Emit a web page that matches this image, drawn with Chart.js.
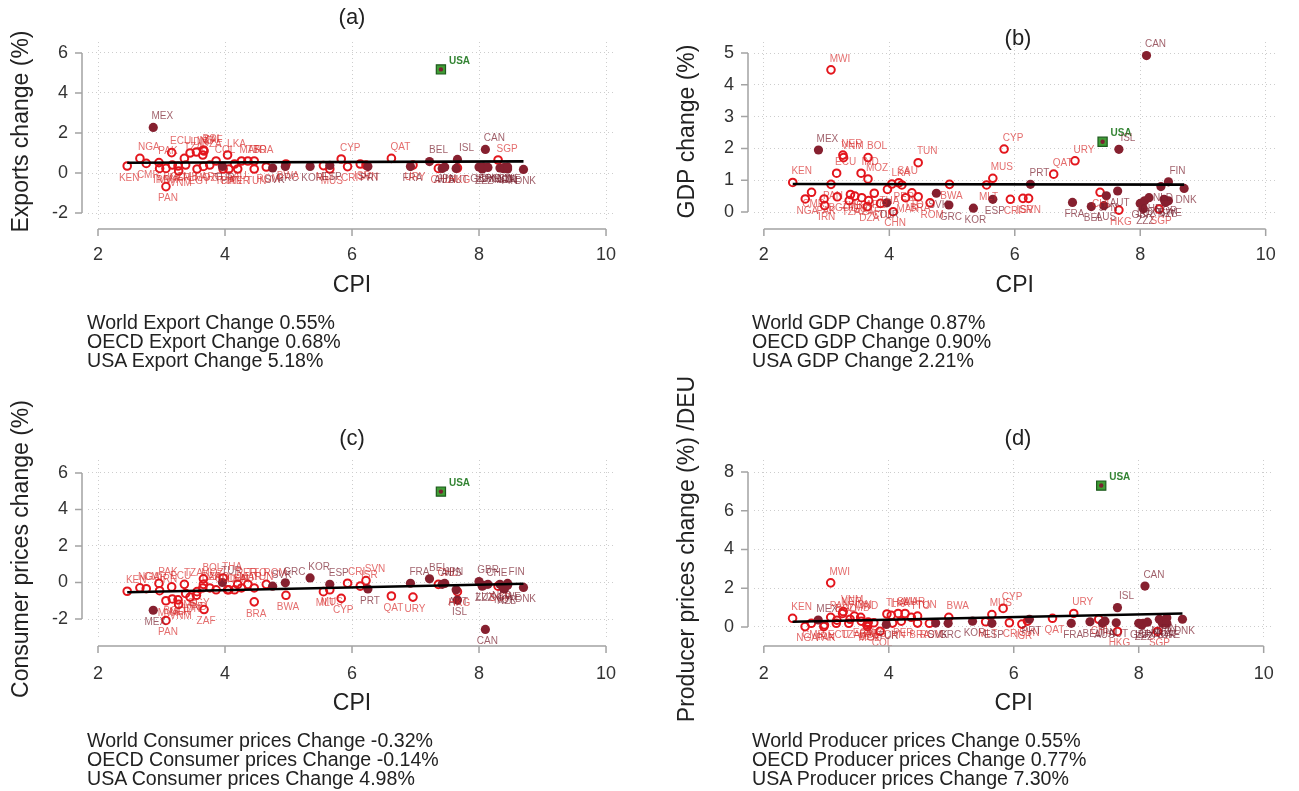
<!DOCTYPE html>
<html>
<head>
<meta charset="utf-8">
<script src="https://cdn.jsdelivr.net/npm/chart.js@4.4.1/dist/chart.umd.min.js"></script>
<style>
html,body{margin:0;padding:0;background:#fff;}
body{width:1299px;height:791px;position:relative;overflow:hidden;font-family:"Liberation Sans",Arial,sans-serif;}
canvas{position:absolute;left:0;top:0;}
.ptitle{position:absolute;font-size:22px;color:#222;transform:translate(-50%,-50%);white-space:nowrap;}
.stats{position:absolute;font-size:19.6px;line-height:19px;color:#222;white-space:nowrap;}
</style>
</head>
<body>
<canvas id="ca" width="1299" height="791"></canvas>
<canvas id="cb" width="1299" height="791"></canvas>
<canvas id="cc" width="1299" height="791"></canvas>
<canvas id="cd" width="1299" height="791"></canvas>
<div class="ptitle" style="left:352px;top:17px">(a)</div>
<div class="ptitle" style="left:1018px;top:38px">(b)</div>
<div class="ptitle" style="left:352px;top:438px">(c)</div>
<div class="ptitle" style="left:1018px;top:438px">(d)</div>
<div class="stats" id="sa" style="left:87px;top:313px"></div>
<div class="stats" id="sb" style="left:752px;top:313px"></div>
<div class="stats" id="sc" style="left:87px;top:731px"></div>
<div class="stats" id="sd" style="left:752px;top:731px"></div>
<script>
// ---------------- data ----------------
const countries = ['KEN','NGA','CMR','MEX','PAK','IRN','MWI','PAN','ECU','BGD','NER','VNM','TZA','ZMB','IDN','IND','EGY','BOL','MOZ','ZAF','DZA','ARG','COL','TUR','THA','LKA','CHN','SAU','PER','MAR','TTO','TUN','BRA','ROM','SVK','GRC','BWA','KOR','MLT','MUS','ESP','CYP','CRI','ISR','SVN','PRT','QAT','FRA','URY','BEL','CHL','USA','AUS','JPN','ISL','AUT','HKG','GBR','ZZZ','LUX','CAN','CHE','SGP','NLD','NOR','NZL','FIN','SWE','DNK'];
const cpi = [2.46,2.66,2.76,2.87,2.96,2.97,3.07,3.07,3.16,3.17,3.26,3.27,3.36,3.38,3.45,3.55,3.56,3.66,3.66,3.67,3.65,3.76,3.86,3.96,3.97,4.04,4.06,4.15,4.20,4.26,4.36,4.46,4.46,4.65,4.75,4.95,4.96,5.34,5.55,5.65,5.65,5.83,5.93,6.13,6.22,6.25,6.62,6.92,6.96,7.22,7.36,7.40,7.42,7.46,7.66,7.64,7.66,8.00,8.05,8.07,8.10,8.14,8.30,8.33,8.38,8.40,8.45,8.45,8.70];
// o = non-OECD (open), f = OECD (filled), u = USA
const group = ['o','o','o','f','o','o','o','o','o','o','o','o','o','o','o','o','o','o','o','o','o','o','o','f','o','o','o','o','o','o','o','o','o','o','f','f','o','f','o','o','f','o','o','o','o','f','o','f','o','f','o','u','f','f','f','f','o','f','f','f','f','f','o','f','f','f','f','f','f'];
const exportsChg = [0.35,0.73,0.48,2.28,0.52,0.23,0.23,-0.68,1.02,0.40,0.35,0.10,0.73,0.40,1.00,1.05,0.20,1.15,0.33,1.10,0.90,0.40,0.60,0.33,0.20,0.90,0.20,0.45,0.20,0.60,0.60,0.20,0.60,0.30,0.25,0.33,0.45,0.33,0.37,0.20,0.38,0.70,0.32,0.45,0.40,0.32,0.73,0.32,0.40,0.57,0.23,5.18,0.23,0.30,0.68,0.23,0.25,0.30,0.20,0.30,1.18,0.28,0.65,0.25,0.22,0.28,0.20,0.30,0.18];
const gdpChg = [0.93,0.41,0.62,1.95,0.41,0.20,4.47,0.87,1.22,0.48,1.79,1.71,0.36,0.55,0.50,1.22,0.45,1.71,1.04,0.36,0.17,0.59,0.27,0.29,0.71,0.88,0.01,0.92,0.85,0.45,0.60,1.55,0.48,0.29,0.59,0.22,0.87,0.12,0.85,1.06,0.40,1.98,0.40,0.43,0.43,0.87,1.19,0.30,1.61,0.17,0.62,2.21,0.20,0.51,1.97,0.66,0.06,0.27,0.10,0.35,4.92,0.45,0.09,0.80,0.40,0.30,0.95,0.35,0.74];
const consumerChg = [-0.48,-0.29,-0.34,-1.52,-0.05,-0.45,-1.00,-2.08,-0.24,-0.90,-0.95,-1.20,-0.10,-0.60,-0.80,-0.70,-0.50,0.20,-0.10,-1.48,-0.30,-0.30,-0.40,0.00,0.25,-0.40,-0.40,-0.40,-0.10,-0.30,-0.10,-0.30,-1.06,-0.10,-0.20,-0.02,-0.70,0.25,-0.50,-0.40,-0.10,-0.87,-0.04,-0.20,0.10,-0.35,-0.74,-0.04,-0.80,0.20,-0.10,4.98,-0.10,-0.05,-0.96,-0.40,-0.50,0.05,-0.20,-0.15,-2.57,-0.10,-0.20,-0.10,-0.30,-0.35,-0.05,-0.15,-0.27];
const producerChg = [0.45,0.02,0.19,0.36,0.02,0.10,2.28,0.50,0.19,0.35,0.70,0.80,0.19,0.40,0.56,0.50,0.30,0.19,0.02,0.25,0.10,0.22,-0.22,0.13,0.67,0.60,0.20,0.70,0.30,0.70,0.50,0.56,0.20,0.19,0.20,0.19,0.50,0.30,0.27,0.64,0.19,0.96,0.22,0.15,0.30,0.40,0.45,0.19,0.70,0.27,0.40,7.30,0.19,0.30,1.00,0.22,-0.23,0.19,0.10,0.19,2.11,0.25,-0.23,0.40,0.19,0.30,0.48,0.19,0.40];
// fitted lines (end points)
const fitCpi = [2.46, 8.70];
const fitExports = [0.51, 0.58];
const fitGdp = [0.88, 0.86];
const fitConsumer = [-0.53, -0.07];
const fitProducer = [0.27, 0.70];
// tick labels
const xTicks = [2, 4, 6, 8, 10];
const yTicksExports = [-2, 0, 2, 4, 6];
const yTicksGdp = [0, 1, 2, 3, 4, 5];
const yTicksConsumer = [-2, 0, 2, 4, 6];
const yTicksProducer = [0, 2, 4, 6, 8];
// summary texts
const statsExports = ['World Export Change 0.55%', 'OECD Export Change 0.68%', 'USA Export Change 5.18%'];
const statsGdp = ['World GDP Change 0.87%', 'OECD GDP Change 0.90%', 'USA GDP Change 2.21%'];
const statsConsumer = ['World Consumer prices Change -0.32%', 'OECD Consumer prices Change -0.14%', 'USA Consumer prices Change 4.98%'];
const statsProducer = ['World Producer prices Change 0.55%', 'OECD Producer prices Change 0.77%', 'USA Producer prices Change 7.30%'];

// ---------------- drawing ----------------
const FONT = '"Liberation Sans", Arial, Helvetica, sans-serif';
Chart.defaults.font.family = FONT;

const panels = [
  {id:'ca', stats:'sa', text:statsExports, vals:exportsChg, fit:fitExports, yTicks:yTicksExports, yTitle:'Exports change (%)',
   pad:{left:8, top:42, right:683, bottom:492}, yW:80, xH:78, xmin:1.8425, xmax:10.157, ymin:-2.4, ymax:6.55, xPad:23},
  {id:'cb', stats:'sb', text:statsGdp, vals:gdpChg, fit:fitGdp, yTicks:yTicksGdp, yTitle:'GDP change (%)',
   pad:{left:674, top:42, right:17, bottom:492}, yW:80, xH:78, xmin:1.8425, xmax:10.157, ymin:-0.283, ymax:5.346, xPad:23},
  {id:'cc', stats:'sc', text:statsConsumer, vals:consumerChg, fit:fitConsumer, yTicks:yTicksConsumer, yTitle:'Consumer prices change (%)',
   pad:{left:8, top:460, right:683, bottom:74}, yW:80, xH:79, xmin:1.8425, xmax:10.157, ymin:-3.04, ymax:6.71, xPad:25},
  {id:'cd', stats:'sd', text:statsProducer, vals:producerChg, fit:fitProducer, yTicks:yTicksProducer, yTitle:'Producer prices change (%) /DEU',
   pad:{left:674, top:460, right:17, bottom:74}, yW:80, xH:79, xmin:1.8425, xmax:10.157, ymin:-0.568, ymax:8.62, xPad:25}
];

function axesPlugin(p) {
  return {
    id: 'rAxes',
    afterDraw(chart) {
      const {ctx, chartArea: ca, scales: {x, y}} = chart;
      ctx.save();
      ctx.strokeStyle = '#a3a3a3';
      ctx.lineWidth = 1.5;
      ctx.beginPath();
      const ax = ca.left - 6;
      const yt = p.yTicks;
      ctx.moveTo(ax, y.getPixelForValue(yt[0]));
      ctx.lineTo(ax, y.getPixelForValue(yt[yt.length - 1]));
      yt.forEach(v => { const py = y.getPixelForValue(v); ctx.moveTo(ax, py); ctx.lineTo(ax - 7, py); });
      const ay = ca.bottom + 8;
      ctx.moveTo(x.getPixelForValue(xTicks[0]), ay);
      ctx.lineTo(x.getPixelForValue(xTicks[xTicks.length - 1]), ay);
      xTicks.forEach(v => { const px = x.getPixelForValue(v); ctx.moveTo(px, ay); ctx.lineTo(px, ay + 7); });
      ctx.stroke();
      ctx.restore();
    }
  };
}

function labelPlugin(p) {
  return {
    id: 'ptLabels',
    afterDatasetsDraw(chart) {
      const {ctx, scales: {x, y}} = chart;
      ctx.save();
      ctx.font = '10px ' + FONT;
      ctx.textBaseline = 'middle';
      countries.forEach((c, i) => {
        const px = x.getPixelForValue(cpi[i]);
        const py = y.getPixelForValue(p.vals[i]);
        if (group[i] === 'u') {
          ctx.font = 'bold 10px ' + FONT;
          ctx.fillStyle = 'rgba(40,125,40,0.95)';
          ctx.textAlign = 'left';
          ctx.fillText(c, px + 8, py - 8);
          ctx.font = '10px ' + FONT;
          return;
        }
        const t = (cpi[i] - fitCpi[0]) / (fitCpi[1] - fitCpi[0]);
        const fv = p.fit[0] + t * (p.fit[1] - p.fit[0]);
        ctx.fillStyle = group[i] === 'f' ? 'rgba(120,30,45,0.72)' : 'rgba(215,40,40,0.68)';
        ctx.textAlign = 'center';
        if (p.vals[i] >= fv) ctx.fillText(c, px + 9, py - 11);
        else ctx.fillText(c, px + 2, py + 12);
      });
      ctx.restore();
    }
  };
}

panels.forEach(p => {
  const idx = group.map((g, i) => i);
  const openPts = idx.filter(i => group[i] === 'o').map(i => ({x: cpi[i], y: p.vals[i]}));
  const oecdPts = idx.filter(i => group[i] === 'f').map(i => ({x: cpi[i], y: p.vals[i]}));
  const usaPts = idx.filter(i => group[i] === 'u').map(i => ({x: cpi[i], y: p.vals[i]}));
  const fitPts = fitCpi.map((v, k) => ({x: v, y: p.fit[k]}));

  new Chart(document.getElementById(p.id), {
    type: 'scatter',
    data: {
      datasets: [
        {label: 'USA dot', data: usaPts, pointStyle: 'circle', pointRadius: 2.2, backgroundColor: '#7a2030', borderWidth: 0, order: 0},
        {label: 'USA', data: usaPts, pointStyle: 'rect', pointRadius: 6.5, backgroundColor: '#3f9d35', borderColor: '#1e5a1e', borderWidth: 1.2, order: 1},
        {label: 'fit', data: fitPts, showLine: true, borderColor: '#000', borderWidth: 2.6, pointRadius: 0, order: 2},
        {label: 'OECD', data: oecdPts, pointStyle: 'circle', pointRadius: 4.6, backgroundColor: '#86202f', borderWidth: 0, order: 3},
        {label: 'Other', data: openPts, pointStyle: 'circle', pointRadius: 3.8, backgroundColor: 'rgba(0,0,0,0)', borderColor: '#e3161d', borderWidth: 2, order: 4}
      ]
    },
    options: {
      responsive: false,
      animation: false,
      events: [],
      layout: {padding: p.pad, autoPadding: false},
      plugins: {legend: {display: false}, tooltip: {enabled: false}, title: {display: false}},
      scales: {
        x: {
          type: 'linear', position: 'bottom', min: p.xmin, max: p.xmax,
          afterBuildTicks: s => { s.ticks = xTicks.map(v => ({value: v})); },
          afterFit: s => { s.height = p.xH; },
          ticks: {padding: p.xPad, color: '#333', font: {size: 18}, maxRotation: 0, callback: v => String(v)},
          grid: {color: '#cdcdcd', lineWidth: 1, drawTicks: false},
          border: {display: false, dash: [1, 3]},
          title: {display: true, text: 'CPI', color: '#222', font: {size: 23}, padding: 0}
        },
        y: {
          type: 'linear', position: 'left', min: p.ymin, max: p.ymax,
          afterBuildTicks: s => { s.ticks = p.yTicks.map(v => ({value: v})); },
          afterFit: s => { s.width = p.yW; },
          ticks: {padding: 20, color: '#333', font: {size: 18}, callback: v => String(v)},
          grid: {color: '#cdcdcd', lineWidth: 1, drawTicks: false},
          border: {display: false, dash: [1, 3]},
          title: {display: true, text: p.yTitle, color: '#222', font: {size: 23}, padding: 0}
        }
      }
    },
    plugins: [axesPlugin(p), labelPlugin(p)]
  });

  document.getElementById(p.stats).innerHTML = p.text.map(t => '<div>' + t + '</div>').join('');
});
</script>
</body>
</html>
